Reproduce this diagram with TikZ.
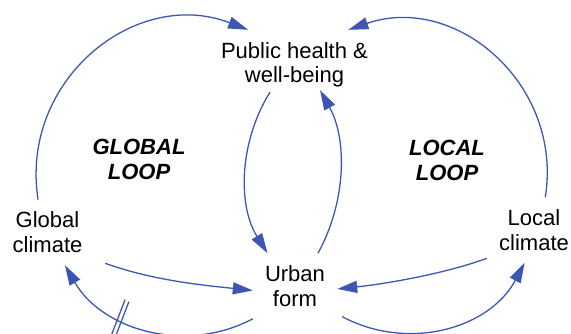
\documentclass[tikz,border=0pt]{standalone}
\usepackage{fontspec}
\setmainfont{Liberation Sans}
\usetikzlibrary{arrows.meta,decorations.markings}
\definecolor{loopblue}{RGB}{61,86,178}

\begin{document}
\begin{tikzpicture}[font=\fontsize{18.8}{21.3}\selectfont,
  concept/.style={align=center, inner sep=0.36cm},
  looplabel/.style={align=center, font=\fontsize{18.8}{21.3}\selectfont\bfseries\itshape},
  link/.style={color=loopblue, line width=1.1pt, -{Triangle[length=0.6cm,width=0.36cm]}},
  delaymark/.style={postaction={decorate, decoration={markings, mark=at position 0.64 with {
      \draw[-, loopblue, line width=1.1pt] (0.135,-0.57) -- (-0.005,0.57);
      \draw[-, loopblue, line width=1.1pt] (0.005,-0.57) -- (-0.135,0.57);}}}}]
	\clip (0,0) rectangle (17.13,9.99);
	% concepts
	\node[concept] (ph) at (8.835,8.046) {Public health \&\\well-being};
	\node[concept] (uf) at (8.85,1.41) {Urban\\form};
	\node[concept] (gc) at (1.425,3.015) {Global\\climate};
	\node[concept] (lc) at (16.02,3.09) {Local\\climate};
	\node[looplabel] (gl) at (4.17,5.22) {GLOBAL\\LOOP};
	\node[looplabel] (ll) at (13.41,5.19) {LOCAL\\LOOP};
	% global loop
	\draw[link] (gc.106) to[out=99,in=159,distance=3.62cm] (ph.143);
	\draw[link] ([shift={(-0.735,0.228)}]ph.south) to[out=-122,in=122,distance=1.72cm] (uf.130);
	\draw[link] ([shift={(0.32,0.06)}]gc.south east) to[out=-20,in=174,distance=1.5cm] (uf.-174);
	\draw[link,delaymark] (uf.south west) to[out=-152,in=-60,distance=2.26cm] (gc.-62);
	% local loop
	\draw[link] (uf.55) to[out=61,in=-61,distance=1.72cm] ([shift={(0.765,0.29)}]ph.south);
	\draw[link] (lc.71) to[out=81,in=19,distance=3.42cm] (ph.33);
	\draw[link] (lc.-149) to[out=-160,in=6,distance=1.4cm] (uf.-4);
	\draw[link] ([xshift=0.15cm]uf.-36) to[out=-28,in=-118,distance=2.24cm] (lc.-106);
\end{tikzpicture}
\end{document}
